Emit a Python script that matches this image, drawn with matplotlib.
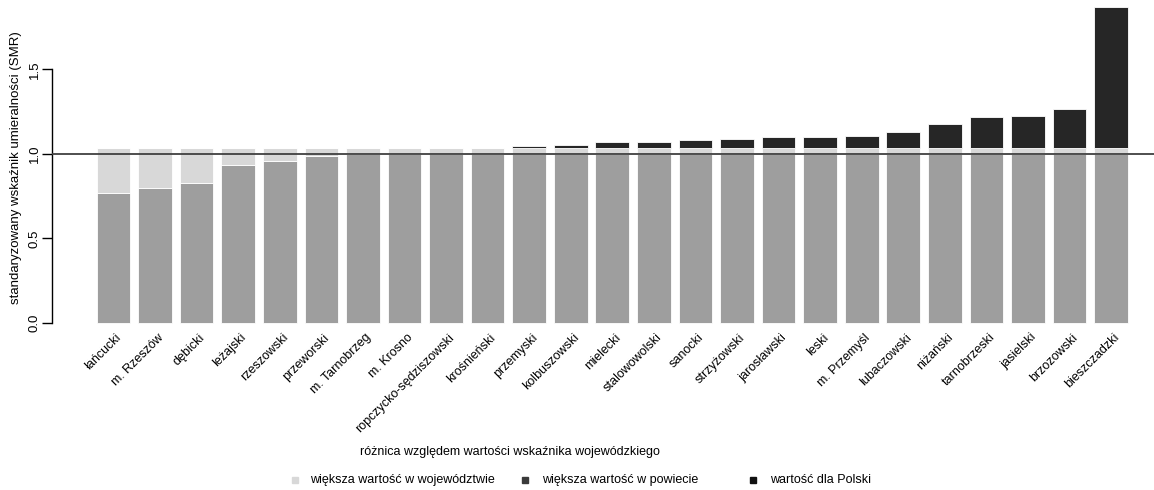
import numpy as np
import matplotlib.pyplot as plt
from matplotlib.patches import Rectangle

plt.rcParams['font.family'] = ['Liberation Sans', 'DejaVu Sans']

# powiaty sorted by SMR
powiaty = ['łańcucki', 'm. Rzeszów', 'dębicki', 'leżajski', 'rzeszowski', 'przeworski',
           'm. Tarnobrzeg', 'm. Krosno', 'ropczycko-sędziszowski', 'krośnieński', 'przemyski',
           'kolbuszowski', 'mielecki', 'stalowowolski', 'sanocki', 'strzyżowski', 'jarosławski',
           'leski', 'm. Przemyśl', 'lubaczowski', 'niżański', 'tarnobrzeski', 'jasielski',
           'brzozowski', 'bieszczadzki']
smr_powiat = [0.77, 0.80, 0.83, 0.937, 0.958, 0.99, 1.00, 1.01, 1.02, 1.03, 1.045,
              1.055, 1.07, 1.072, 1.08, 1.086, 1.10, 1.103, 1.107, 1.13, 1.18, 1.22,
              1.227, 1.264, 1.87]
smr_woj = 1.035      # wartość dla województwa
smr_polska = 1.0     # wartość dla Polski

legend_labels = ['większa wartość w województwie', 'większa wartość w powiecie', 'wartość dla Polski']

W, H = 1154, 490
fig = plt.figure(figsize=(W / 100, H / 100), dpi=100)

# axes placed so the bars line up with the scan
ax_bottom_px = 323 + 0.075 * 169
ax = fig.add_axes([52 / W, 1 - ax_bottom_px / H, 1 - 52 / W, ax_bottom_px / H])

smr = np.array(smr_powiat)
x = np.arange(len(powiaty))
base = np.minimum(smr, smr_polska)
light = smr_woj - base
dark = np.clip(smr - smr_woj, 0, None)

c_gray, c_light, c_dark = '#9e9e9e', '#d8d8d8', '#262626'
ax.bar(x, base, width=0.81, color=c_gray, edgecolor='white', linewidth=0.6)
ax.bar(x, light, bottom=base, width=0.81, color=c_light, edgecolor='white', linewidth=0.6)
ax.bar(x, dark, bottom=smr_woj, width=0.81, color=c_dark, edgecolor='white', linewidth=0.6)

ax.axhline(smr_polska, color='#404040', linewidth=1.3, zorder=3)

ax.set_xlim(-1.479, 25.03)
ax.set_ylim(-0.075, 323 / 169)

# R-like y axis: line only between first and last tick
for s in ['top', 'right', 'bottom']:
    ax.spines[s].set_visible(False)
ax.spines['left'].set_bounds(0, 1.5)
ax.spines['left'].set_linewidth(1.0)
ax.set_yticks([0.0, 0.5, 1.0, 1.5])
ax.set_yticklabels(['0.0', '0.5', '1.0', '1.5'], rotation=90, va='center', fontsize=9.5)
ax.tick_params(axis='y', length=7, width=1.0, pad=1)
ax.set_ylabel('standaryzowany wskaźnik umieralności (SMR)', fontsize=9.5)
ax.yaxis.set_label_coords(-0.027, 0.5)

ax.set_xticks(x + 0.05)
ax.set_xticklabels(powiaty, rotation=45, ha='right', va='top', rotation_mode='anchor', fontsize=9)
ax.tick_params(axis='x', length=0, pad=-3)

# legend drawn as plain figure text like the original
fig.text(360 / W, 1 - 452 / H, 'różnica względem wartości wskaźnika wojewódzkiego',
         fontsize=9, ha='left', va='center')
ly = 1 - 480 / H
for mx, tx, col, lab in [(295, 310, c_light, legend_labels[0]),
                         (525, 542, '#3a3a3a', legend_labels[1]),
                         (753, 770, '#111111', legend_labels[2])]:
    fig.patches.append(Rectangle(((mx - 3) / W, ly - 3 / H), 6 / W, 6 / H,
                                 transform=fig.transFigure, color=col))
    fig.text(tx / W, ly, lab, fontsize=9, ha='left', va='center')

fig.savefig('out.png', dpi=100)
